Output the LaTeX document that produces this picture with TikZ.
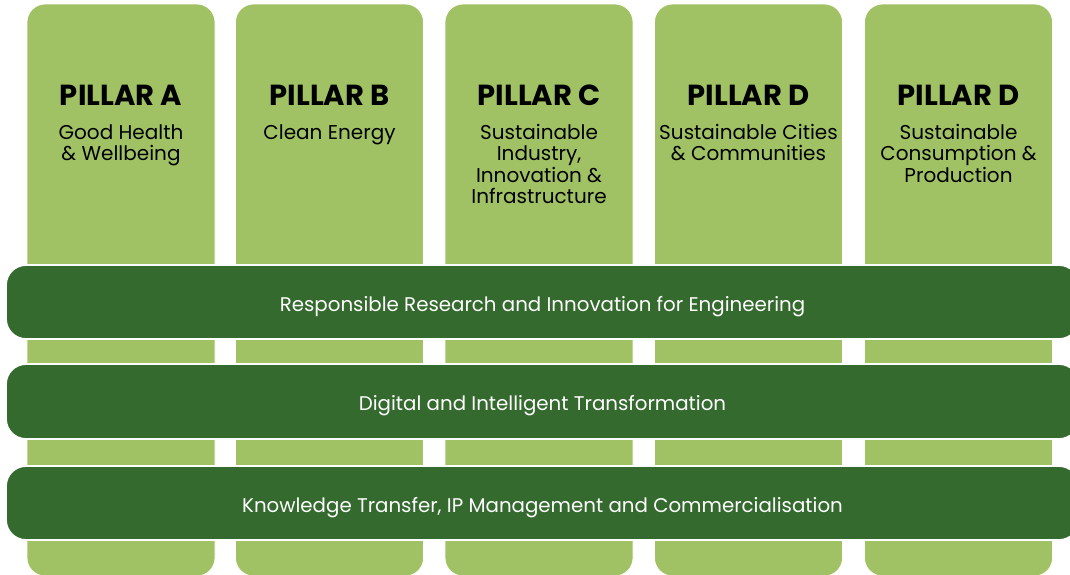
\documentclass[tikz,border=0pt]{standalone}
\usepackage{fontspec}
\setmainfont{Poppins}
\definecolor{lightg}{HTML}{A0C264}
\definecolor{darkg}{HTML}{346A2E}
\begin{document}
\begin{tikzpicture}[x=1pt,y=-1pt,
  pillar/.style={fill=lightg,draw=white,line width=0.8pt,rounded corners=18pt},
  band/.style={fill=darkg,draw=white,line width=1.8pt,rounded corners=20pt},
  ptitle/.style={anchor=base,inner sep=0pt,font=\fontsize{29}{32}\selectfont\bfseries,text=black},
  psub/.style={anchor=north,inner sep=0pt,align=center,font=\fontsize{20}{21.5}\selectfont,text=black},
  btext/.style={anchor=base,inner sep=0pt,font=\fontsize{19.8}{22}\selectfont,text=white}]
\useasboundingbox (0,0) rectangle (1070,574);
\begin{scope}
\clip (0,0) rectangle (1070,574);
% pillars
\foreach \i/\x in {a/27,b/235.5,c/445,d/654.5,e/864.5}{
  \draw[pillar] (\x,4) rectangle ++(188,572);
}
% bands
\draw[band] (6,265) rectangle (1079,339);
\draw[band] (6,364) rectangle (1079,439);
\draw[band] (6,466) rectangle (1079,540);
\end{scope}
% pillar titles
\node[ptitle] (ta) at (121,105) {PILLAR A};
\node[ptitle] (tb) at (329.5,105) {PILLAR B};
\node[ptitle] (tc) at (539,105) {PILLAR C};
\node[ptitle] (td) at (748.5,105) {PILLAR D};
\node[ptitle] (te) at (958.5,105) {PILLAR D};
% subtitles
\node[psub] (sa) at (121,123) {\rule{0pt}{16pt}Good Health\\\& Wellbeing};
\node[psub] (sb) at (329.5,123) {\rule{0pt}{16pt}Clean Energy};
\node[psub] (sc) at (539,123) {\rule{0pt}{16pt}Sustainable\\Industry,\\Innovation \&\\Infrastructure};
\node[psub] (sd) at (748.5,123) {\rule{0pt}{16pt}Sustainable Cities\\\& Communities};
\node[psub] (se) at (958.5,123) {\rule{0pt}{16pt}Sustainable\\Consumption \&\\Production};
% band texts
\node[btext] (b1) at (542.5,311) {Responsible Research and Innovation for Engineering};
\node[btext] (b2) at (542.5,410.5) {Digital and Intelligent Transformation};
\node[btext] (b3) at (542.5,512) {Knowledge Transfer, IP Management and Commercialisation};
\end{tikzpicture}
\end{document}
